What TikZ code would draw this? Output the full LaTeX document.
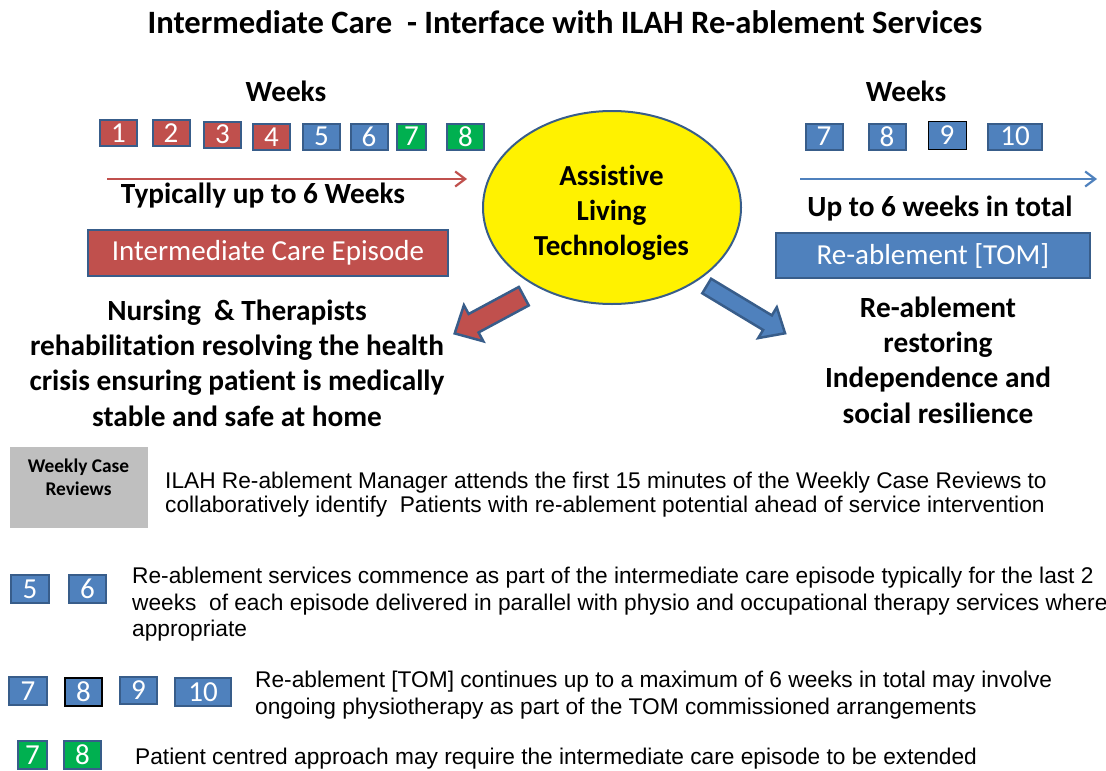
\documentclass[tikz,border=0pt]{standalone}
\usepackage{fontspec}
\setmainfont{Carlito}[Ligatures=NoCommon]
\newfontfamily\arialfont{Liberation Sans}
\usetikzlibrary{arrows.meta,shapes.geometric}

\definecolor{cred}{HTML}{C0504D}
\definecolor{cblue}{HTML}{4F81BD}
\definecolor{cgreen}{HTML}{00B050}
\definecolor{cedge}{HTML}{385D8A}
\definecolor{cgrey}{HTML}{BFBFBF}

\tikzset{
  wk/.style={draw=cedge, line width=2pt, text=white, inner sep=0pt,
    minimum width=37pt, minimum height=26pt,
    font=\fontsize{29}{29}\selectfont},
  wkred/.style={wk, fill=cred},
  wkblue/.style={wk, fill=cblue},
  wkgreen/.style={wk, fill=cgreen},
  heading/.style={inner sep=0pt, font=\bfseries\fontsize{29.3}{35.3}\selectfont, align=center},
  band/.style={draw=cedge, line width=1.5pt, text=white, inner sep=0pt,
    font=\fontsize{29}{29}\selectfont},
  timeline/.style={line width=2.2pt, -{Straight Barb[length=10pt,width=15pt,line width=2.2pt]}},
  blockarrow/.style={draw=cedge, line width=2.5pt, line join=miter},
  body/.style={inner sep=0pt, anchor=base west, font=\arialfont\fontsize{22.7}{22.7}\selectfont},
}

\begin{document}
\begin{tikzpicture}[x=1pt, y=-1pt]
\useasboundingbox (0,0) rectangle (1106,771);

% title
\node[heading, font=\bfseries\fontsize{32.6}{32.6}\selectfont] (title) at (565,22) {Intermediate Care\ \ - Interface with ILAH Re-ablement Services};

% intermediate care weeks
\node[heading] (weeksL) at (286,91) {Weeks};
\node[wkred] (l1) at (118.5,133) {1};
\node[wkred] (l2) at (171,133) {2};
\node[wkred] (l3) at (222.5,134.5) {3};
\node[wkred] (l4) at (271.5,137) {4};
\node[wkblue] (l5) at (321.5,136.5) {5};
\node[wkblue] (l6) at (369,136.5) {6};
\node[wkgreen, minimum width=29pt] (l7) at (411.5,136.5) {7};
\node[wkgreen] (l8) at (465.5,136.5) {8};

\coordinate (redstart) at (107,179);
\coordinate (redend) at (467,179);
\draw[timeline, cred] (redstart) -- (redend);

\node[heading] (typically) at (263,196) {Typically up to 6 Weeks};
\node[band, fill=cred, minimum width=360pt, minimum height=46pt] (icepisode) at (268,253) {Intermediate Care Episode};

\node[heading] (nursing) at (237,363) {Nursing\ \ \& Therapists\\rehabilitation resolving the health\\crisis ensuring patient is medically\\stable and safe at home};

% re-ablement weeks
\node[heading] (weeksR) at (906,91) {Weeks};
\node[wkblue] (r7) at (824,136.5) {7};
\node[wkblue] (r8) at (887,136.5) {8};
\node[wkblue, draw=black, line width=1pt, minimum width=38pt, minimum height=28pt] (r9) at (947,135.5) {9};
\node[wkblue, minimum width=54pt] (r10) at (1015,136.5) {10};

\coordinate (bluestart) at (800,179);
\coordinate (blueend) at (1097,179);
\draw[timeline, cblue] (bluestart) -- (blueend);

\node[heading] (uptosix) at (940,209) {Up to 6 weeks in total};
\node[band, fill=cblue, minimum width=314pt, minimum height=45pt] (tom) at (933,255.5) {Re-ablement [TOM]};

\node[heading] (restoring) at (938,360) {Re-ablement\\restoring\\Independence and\\social resilience};

% central ellipse
\node[ellipse, draw=cedge, line width=2pt, fill=yellow, minimum width=258pt, minimum height=193pt, inner sep=0pt] (alt) at (612,207.5) {};
\node[heading, font=\bfseries\fontsize{29}{35}\selectfont] (alttext) at (611.5,212.5) {Assistive\\Living\\Technologies};

% block arrows leaving the ellipse
\begin{scope}[shift={(523.8,296.2)}, rotate=208.3]
  \draw[blockarrow, fill=cred] (0,10.5) -- (57,10.5) -- (57,20.5) -- (78.5,0) -- (57,-20.5) -- (57,-10.5) -- (0,-10.5) -- cycle;
\end{scope}
\begin{scope}[shift={(706.7,286)}, rotate=-31.1]
  \draw[blockarrow, fill=cblue] (0,8.5) -- (71,8.5) -- (71,18) -- (91.5,0) -- (71,-18) -- (71,-8.5) -- (0,-8.5) -- cycle;
\end{scope}

% weekly case reviews
\node[fill=cgrey, minimum width=138pt, minimum height=81pt, inner sep=0pt] (wcr) at (79,487.5) {};
\node[heading, font=\bfseries\fontsize{19.4}{23}\selectfont] (wcrtext) at (78.5,477) {Weekly Case\\Reviews};
\node[body] (ilah1) at (165,488) {ILAH Re-ablement Manager attends the first 15 minutes of the Weekly Case Reviews to};
\node[body] (ilah2) at (165,512) {collaboratively identify\ \ Patients with re-ablement potential ahead of service intervention};

% weeks 5 and 6
\node[wkblue, minimum width=38pt, minimum height=28pt] (b5) at (30,589) {5};
\node[wkblue, minimum width=37pt, minimum height=28pt] (b6) at (87.5,589) {6};
\node[body] (par1) at (132,583) {Re-ablement services commence as part of the intermediate care episode typically for the last 2};
\node[body] (par2) at (132,610) {weeks\ \ of each episode delivered in parallel with physio and occupational therapy services where};
\node[body] (par3) at (132,636) {appropriate};

% weeks 7 to 10
\node[wkblue, minimum width=38pt, minimum height=28pt] (c7) at (28,691) {7};
\node[wkblue, draw=black, line width=2.5pt, minimum width=37pt, minimum height=28pt] (c8) at (83.5,692) {8};
\node[wkblue, minimum width=37pt, minimum height=27pt] (c9) at (138.5,690.5) {9};
\node[wkblue, minimum width=56pt, minimum height=28pt] (c10) at (203,692) {10};
\node[body] (tom1) at (255,687) {Re-ablement [TOM] continues up to a maximum of 6 weeks in total may involve};
\node[body] (tom2) at (255,714) {ongoing physiotherapy as part of the TOM commissioned arrangements};

% extended episode
\node[wkgreen, minimum width=29pt, minimum height=28pt] (g7) at (32.5,755) {7};
\node[wkgreen, minimum width=37pt, minimum height=28pt] (g8) at (82.5,755) {8};
\node[body] (ext) at (135,764) {Patient centred approach may require the intermediate care episode to be extended};

\end{tikzpicture}
\end{document}
